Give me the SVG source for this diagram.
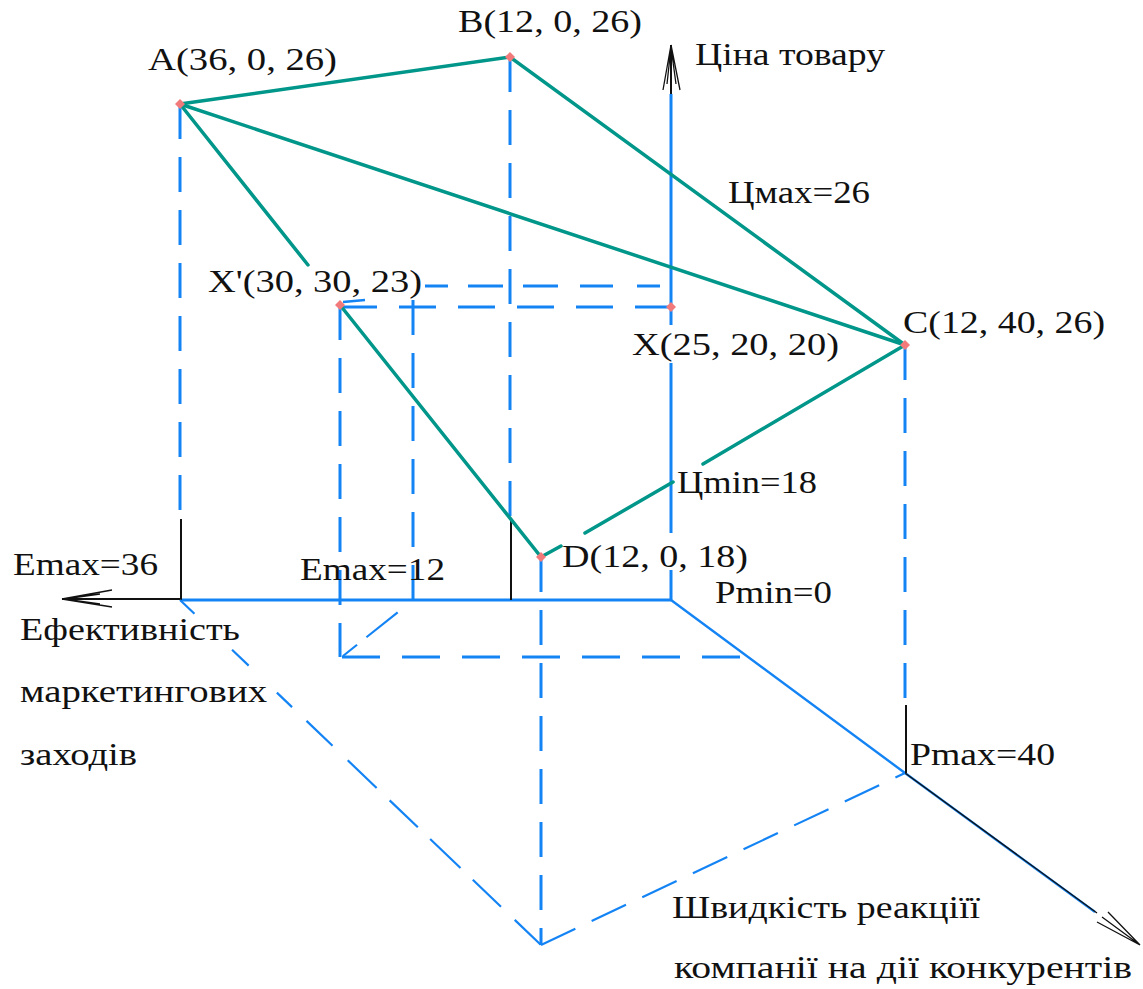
<svg xmlns="http://www.w3.org/2000/svg" width="1143" height="989" viewBox="0 0 1143 989">
<style>
text{font-family:"Liberation Serif","Times New Roman",serif;font-size:32px;fill:#111;}
.tl{stroke:#00968a;stroke-width:3.5;fill:none;stroke-linecap:round;}
.ax{stroke:#1484f5;stroke-width:3;fill:none;}
.ax2{stroke:#1484f5;stroke-width:2.4;fill:none;}
.ds{stroke:#1484f5;stroke-width:3;fill:none;stroke-dasharray:35 18;}
.dt{stroke:#1484f5;stroke-width:2.2;fill:none;stroke-dasharray:38 18;}
.bk{stroke:#111;stroke-width:2;fill:none;}
.bk1{stroke:#111;stroke-width:1.3;fill:none;}
.pt{fill:#f27a7a;}
</style>
<defs>
<path id="dia" d="M0,-5 L5,0 L0,5 L-5,0 Z"/>
</defs>
<rect width="1143" height="989" fill="#fff"/>

<g id="axes">
  <path class="ax" d="M671,94 V325 M671,363 V533 M671,570 V600"/>
  <path class="bk" d="M671,45 V94"/>
  <path class="bk1" d="M671,45 L663,90 M671,45 L680,90 M671,47 L667,84 M671,47 L676,84"/>
  <path class="ax" d="M180,600 H671"/>
  <path class="bk" d="M62,599 H180"/>
  <path class="bk1" d="M62,599 L112,590 M62,599 L112,607 M64,599 L100,594 M64,599 L100,604"/>
  <path class="ax2" d="M671,600 L905,773 L1095,912"/>
  <path class="bk1" d="M905,773 L1097,913"/>
  <path class="bk1" d="M1140,945 L1097,922 M1140,945 L1108,912 M1140,945 L1102,917"/>
</g>

<g id="connectors">
  <path class="ds" d="M180,104 V519"/>
  <path class="bk" d="M181,519 V600"/>
  <path class="ds" d="M510,57 V518"/>
  <path class="bk" d="M511,518 V600"/>
  <path class="ds" d="M905,345 V705"/>
  <path class="bk" d="M906,705 V773"/>
  <path class="ds" d="M541,557 V945"/>
  <path class="ds" d="M340,305 V657"/>
  <path class="ds" d="M413,300 V600"/>
  <path class="ds" d="M340,307 H671" style="stroke-dasharray:37 22"/>
  <path class="ds" d="M425,286 H671" style="stroke-dasharray:23 20 35 20 35 22 33 24"/>
  <path class="ax" d="M343,302 L365,300" style="stroke-width:2.5"/>
  <path class="ds" d="M342,657 H750" style="stroke-dasharray:38 22"/>
  <path class="dt" d="M343,656 L413,600" style="stroke-dasharray:18 12 40 20"/>
  <path class="dt" d="M180,600 L541,945" style="stroke-dasharray:20 52 23 39 21 20 36 21 40 18 39 17 42 17 39 19 36"/>
  <path class="dt" d="M541,945 L905,773"/>
  <path class="tl" d="M180,104 L510,57 L905,345"/>
  <path class="tl" d="M180,104 L905,345"/>
  <path class="tl" d="M180,104 L308,265"/>
  <path class="tl" d="M340,305 L541,557"/>
  <path class="tl" d="M541,557 L561,546 M585,533 L673,482 M703,464 L905,345"/>
</g>

<g id="node-A"><use href="#dia" class="pt" x="180" y="104"/><text x="148" y="70" textLength="189" lengthAdjust="spacingAndGlyphs">A(36, 0, 26)</text></g>
<g id="node-B"><use href="#dia" class="pt" x="510" y="57"/><text x="458" y="32" textLength="184" lengthAdjust="spacingAndGlyphs">B(12, 0, 26)</text></g>
<g id="node-C"><use href="#dia" class="pt" x="905" y="345"/><text x="903" y="333" textLength="202" lengthAdjust="spacingAndGlyphs">C(12, 40, 26)</text></g>
<g id="node-D"><use href="#dia" class="pt" x="541" y="557"/><text x="562" y="567" textLength="186" lengthAdjust="spacingAndGlyphs">D(12, 0, 18)</text></g>
<g id="node-X"><use href="#dia" class="pt" x="671" y="307"/><text x="632" y="355" textLength="207" lengthAdjust="spacingAndGlyphs">X(25, 20, 20)</text></g>
<g id="node-Xp"><use href="#dia" class="pt" x="340" y="305"/><text x="208" y="292" textLength="214" lengthAdjust="spacingAndGlyphs">X'(30, 30, 23)</text></g>

<g id="labels">
  <text x="695" y="65" textLength="190" lengthAdjust="spacingAndGlyphs">Ціна товару</text>
  <text x="728" y="203" textLength="142" lengthAdjust="spacingAndGlyphs">Цмах=26</text>
  <text x="677" y="493" textLength="140" lengthAdjust="spacingAndGlyphs">Цmin=18</text>
  <text x="715" y="603" textLength="117" lengthAdjust="spacingAndGlyphs">Pmin=0</text>
  <text x="13" y="575" textLength="145" lengthAdjust="spacingAndGlyphs">Emax=36</text>
  <text x="300" y="580" textLength="145" lengthAdjust="spacingAndGlyphs">Emax=12</text>
  <text x="20" y="640" textLength="220" lengthAdjust="spacingAndGlyphs">Ефективність</text>
  <text x="20" y="702" textLength="247" lengthAdjust="spacingAndGlyphs">маркетингових</text>
  <text x="20" y="765" textLength="117" lengthAdjust="spacingAndGlyphs">заходів</text>
  <text x="910" y="765" textLength="145" lengthAdjust="spacingAndGlyphs">Pmax=40</text>
  <text x="672" y="918" textLength="308" lengthAdjust="spacingAndGlyphs">Швидкість реакціїї</text>
  <text x="674" y="978" textLength="458" lengthAdjust="spacingAndGlyphs">компанії на дії конкурентів</text>
</g>
</svg>
